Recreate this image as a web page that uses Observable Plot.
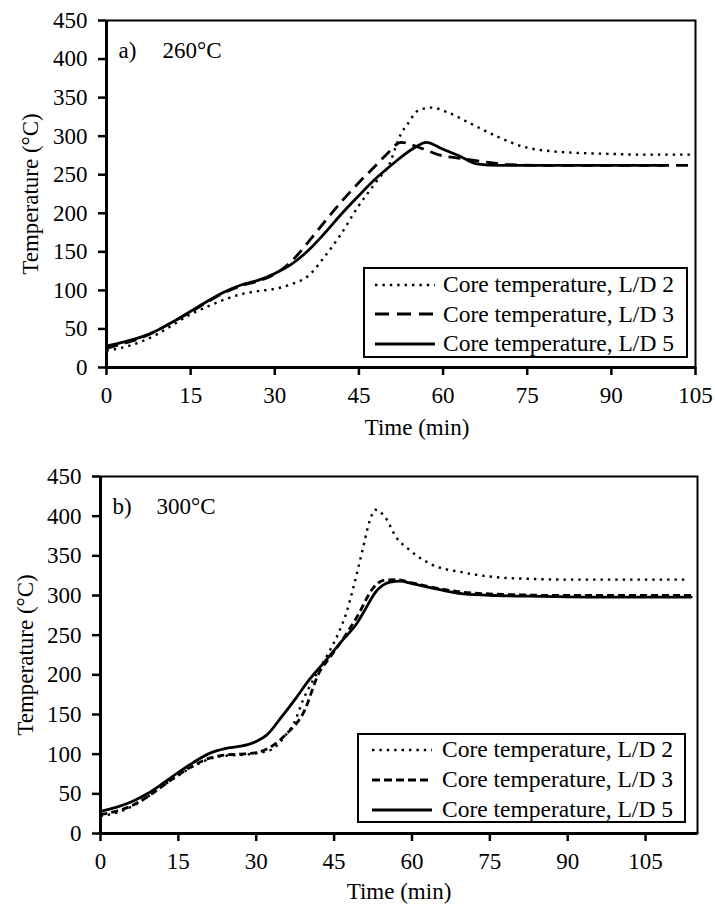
<!DOCTYPE html>
<html>
<head>
<meta charset="utf-8">
<script src="https://cdn.jsdelivr.net/npm/d3@7"></script>
<script src="https://cdn.jsdelivr.net/npm/@observablehq/plot@0.6"></script>
<style>
  html, body { margin: 0; padding: 0; background: #fff; }
  #wrap { position: relative; width: 715px; height: 905px; font-family: "Liberation Serif", "Times New Roman", serif; }
  #wrap svg { display: block; }
  .legend { position: absolute; box-sizing: border-box; border: 2.5px solid #000; background: #fff; }
  .legend .row { display: flex; align-items: center; white-space: nowrap; }
  .legend span { font-size: 23.5px; line-height: 1; color: #000; }
</style>
</head>
<body>
<div id="wrap"></div>
<script>
// ---------- Data ----------
const xTicks = [0, 15, 30, 45, 60, 75, 90, 105];
const yTicks = [0, 50, 100, 150, 200, 250, 300, 350, 400, 450];
const seriesNames = ["Core temperature, L/D 2", "Core temperature, L/D 3", "Core temperature, L/D 5"];
const panelTitles = [["a)", "260°C"], ["b)", "300°C"]];

// Panel a) 260°C
const aTimeLD2 = [0, 3, 6, 9, 12, 15, 18, 21, 24, 27, 30, 33, 36, 38.8, 41.8, 44.8, 48.3, 50.7, 51.5, 52.5, 53.7, 55.5, 57.9, 60.8, 65, 69.8, 74.5, 80, 85, 90, 95, 100, 105];
const aTempLD2 = [22, 26, 33, 43, 56, 69, 79, 88, 95, 99, 102, 108, 119, 143, 173, 208, 243, 268, 285, 303, 316, 333, 337, 331, 316, 299, 286, 280, 278, 277, 276, 276, 276];

const aTimeLD3 = [0, 3, 6, 9, 12, 15, 18, 21, 24, 27, 30, 33, 36, 39, 42, 45, 48, 50, 52.5, 55.5, 59.6, 63.2, 68, 72, 80, 90, 100, 104];
const aTempLD3 = [25, 31, 38, 48, 60, 72, 85, 97, 106, 112, 121, 138, 163, 190, 216, 240, 262, 277, 292, 286, 275, 271, 266, 263, 262, 262, 262, 262];

const aTimeLD5 = [0, 3, 6, 9, 12, 15, 18, 21, 24, 27, 30, 33, 36, 39, 42, 45, 48, 50.7, 54.9, 57, 60, 63, 66, 70, 80, 90, 99.5];
const aTempLD5 = [28, 33, 39, 48, 60, 73, 86, 98, 107, 113, 122, 134, 152, 175, 200, 223, 245, 262, 285, 292, 283, 274, 264, 262, 262, 262, 262];

// Panel b) 300°C
const bTimeLD2 = [0, 3, 6, 9, 12, 15, 18, 21, 24, 27, 30, 33, 35.9, 37.2, 39, 41.7, 44.2, 45.8, 47.4, 48.7, 49.7, 50.6, 51.9, 52.9, 54.8, 57, 59.6, 63.5, 69.9, 76.3, 82.7, 90, 100, 112.9];
const bTempLD2 = [22, 26, 34, 46, 60, 73, 85, 94, 98, 99, 101, 106, 126, 138, 168, 202, 231, 252, 279, 310, 336, 361, 395, 408, 399, 373, 357, 340, 329, 323, 321, 320, 320, 320];

const bTimeLD3 = [0, 3, 6, 9, 12, 15, 18, 21, 24, 27, 30, 33, 35.9, 39, 42.3, 44.2, 47, 49.4, 52.6, 54.5, 57, 60, 65, 70, 80, 90, 100, 113.8];
const bTempLD3 = [24, 28, 35, 46, 60, 74, 86, 95, 99, 100, 102, 110, 126, 151, 205, 222, 248, 273, 310, 319, 320, 316, 309, 304, 301, 300, 300, 300];

const bTimeLD5 = [0, 3, 6, 9, 12, 15, 18, 21, 24, 27, 30, 32, 35, 37.8, 40, 43, 46.8, 49.4, 50.6, 53.2, 55.8, 57.7, 60, 63.5, 69.9, 76.3, 85, 95, 105, 113.8];
const bTempLD5 = [28, 33, 40, 50, 63, 77, 90, 101, 107, 110, 116, 124, 148, 172, 192, 215, 245, 265, 278, 306, 317, 318, 315, 310, 302, 300, 299, 298, 298, 298];

// ---------- Helpers ----------
const rows = (t, T) => t.map((d, i) => ({t: d, T: T[i]}));

function panel({xMax, height, margins, title, data, dashLD3, xLabelDx, xLabelDy, yLabelDx}) {
  const [ld2, ld3, ld5] = data;
  return Plot.plot({
    width: 715,
    height,
    marginLeft: margins[0], marginRight: margins[1], marginTop: margins[2], marginBottom: margins[3],
    style: {fontFamily: "'Liberation Serif', 'Times New Roman', serif", fontSize: "23px", color: "#000", background: "#fff", overflow: "visible"},
    x: {domain: [0, xMax]},
    y: {domain: [0, 450]},
    marks: [
      Plot.axisX({ticks: xTicks, tickSize: 8, tickPadding: 11, strokeWidth: 2.5, label: null, tickFormat: d => String(d)}),
      Plot.axisY({ticks: yTicks, tickSize: 8, tickPadding: 11, strokeWidth: 2.5, label: null, tickFormat: d => String(d)}),
      Plot.frame({stroke: "#000", strokeWidth: 2}),
      Plot.ruleX([0], {stroke: "#000", strokeWidth: 3}),
      Plot.ruleY([0], {stroke: "#000", strokeWidth: 3}),
      Plot.line(ld2, {x: "t", y: "T", curve: "monotone-x", stroke: "#000", strokeWidth: 2.4, strokeDasharray: "2.4,5", strokeLinecap: "butt"}),
      Plot.line(ld3, {x: "t", y: "T", curve: "monotone-x", stroke: "#000", strokeWidth: 2.8, strokeDasharray: dashLD3, strokeLinecap: "butt"}),
      Plot.line(ld5, {x: "t", y: "T", curve: "monotone-x", stroke: "#000", strokeWidth: 2.8}),
      Plot.text([title[0]], {frameAnchor: "top-left", textAnchor: "start", lineAnchor: "middle", dx: 12, dy: 30, fill: "#000"}),
      Plot.text([title[1]], {frameAnchor: "top-left", textAnchor: "start", lineAnchor: "middle", dx: 56, dy: 30, fill: "#000"}),
      Plot.text(["Time (min)"], {frameAnchor: "bottom", textAnchor: "middle", lineAnchor: "middle", dx: xLabelDx, dy: xLabelDy, fill: "#000"}),
      Plot.text(["Temperature (°C)"], {frameAnchor: "left", textAnchor: "middle", lineAnchor: "middle", rotate: -90, dx: yLabelDx, fill: "#000"})
    ]
  });
}

function legend({left, top, width, height, padTop, padLeft, rowH, gap, dash}) {
  const div = document.createElement("div");
  div.className = "legend";
  Object.assign(div.style, {left: left + "px", top: top + "px", width: width + "px", height: height + "px", paddingTop: padTop + "px", paddingLeft: padLeft + "px"});
  const styles = [
    {w: 2.4, d: "2.4,5"},
    {w: 2.8, d: dash},
    {w: 2.8, d: null}
  ];
  seriesNames.forEach((name, i) => {
    const row = document.createElement("div");
    row.className = "row";
    row.style.height = rowH + "px";
    const s = styles[i];
    row.innerHTML = `<svg width="60" height="12" style="margin-right:${gap}px;flex:none"><line x1="0" x2="60" y1="6" y2="6" stroke="#000" stroke-width="${s.w}" ${s.d ? `stroke-dasharray="${s.d}"` : ""}/></svg><span>${name}</span>`;
    div.appendChild(row);
  });
  return div;
}

const wrap = document.getElementById("wrap");

const panelA = panel({
  xMax: 105, height: 445, margins: [106, 20, 20, 78],
  title: panelTitles[0],
  data: [rows(aTimeLD2, aTempLD2), rows(aTimeLD3, aTempLD3), rows(aTimeLD5, aTempLD5)],
  dashLD3: "12,7", xLabelDx: 16, xLabelDy: 60, yLabelDx: -76
});
const panelB = panel({
  xMax: 115, height: 460, margins: [100, 18, 31, 72],
  title: panelTitles[1],
  data: [rows(bTimeLD2, bTempLD2), rows(bTimeLD3, bTempLD3), rows(bTimeLD5, bTempLD5)],
  dashLD3: "7,4", xLabelDx: 0, xLabelDy: 58, yLabelDx: -75
});
wrap.appendChild(panelA);
wrap.appendChild(panelB);
wrap.appendChild(legend({left: 363, top: 267, width: 325, height: 91, padTop: 1, padLeft: 10, rowH: 29.5, gap: 8, dash: "14,8"}));
wrap.appendChild(legend({left: 357, top: 733, width: 329, height: 90, padTop: 0, padLeft: 13, rowH: 30, gap: 10, dash: "8,4"}));
</script>
</body>
</html>
